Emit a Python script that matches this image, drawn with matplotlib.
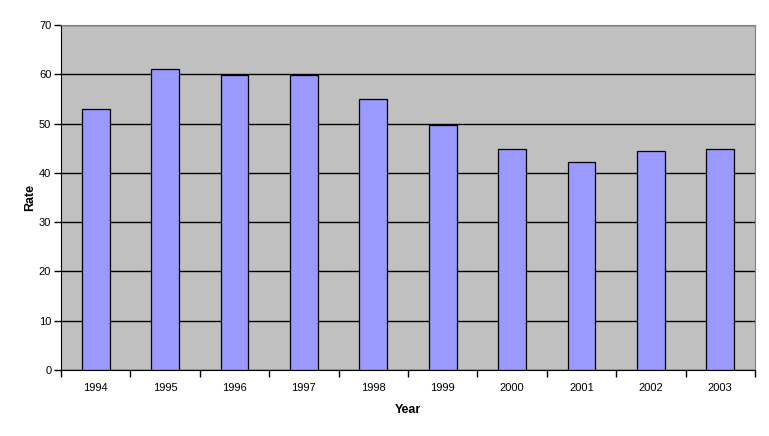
import matplotlib
matplotlib.use('Agg')
import matplotlib.pyplot as plt
import numpy as np

plt.rcParams['font.family'] = ['Liberation Sans', 'DejaVu Sans']

years = ['1994', '1995', '1996', '1997', '1998', '1999', '2000', '2001', '2002', '2003']
rates = [53, 61, 59.8, 59.8, 55, 49.7, 44.8, 42.2, 44.4, 44.8]

fig = plt.figure(figsize=(7.69, 4.36), dpi=100)
ax = fig.add_axes([61 / 769, 66 / 436, 694 / 769, 345 / 436])
ax.set_facecolor('#C0C0C0')

x = np.arange(len(years))
ax.bar(x, rates, width=0.4, color='#9999FF', edgecolor='black', linewidth=0.9, zorder=3)

ax.set_xlim(-0.5, len(years) - 0.5)
ax.set_ylim(0, 70)
ax.set_yticks(np.arange(0, 71, 10))
ax.yaxis.grid(True, color='black', linewidth=1, zorder=0)
ax.set_axisbelow(True)

# category labels centred, tick marks between categories
ax.set_xticks(x)
ax.set_xticklabels(years, fontsize=8)
ax.tick_params(axis='x', length=0, pad=9)
ax.set_xticks(np.arange(-0.5, len(years), 1), minor=True)
ax.tick_params(axis='x', which='minor', length=5, direction='out', width=1)
ax.tick_params(axis='y', labelsize=8, length=5, direction='out', width=1, pad=2)

for s in ['top', 'right']:
    ax.spines[s].set_color('#808080')
for s in ['left', 'bottom']:
    ax.spines[s].set_color('black')

ax.set_xlabel('Year', fontsize=9, fontweight='bold', labelpad=8)
ax.set_ylabel('Rate', fontsize=9, fontweight='bold', labelpad=2)

fig.savefig('out.png', dpi=100, facecolor='white')
